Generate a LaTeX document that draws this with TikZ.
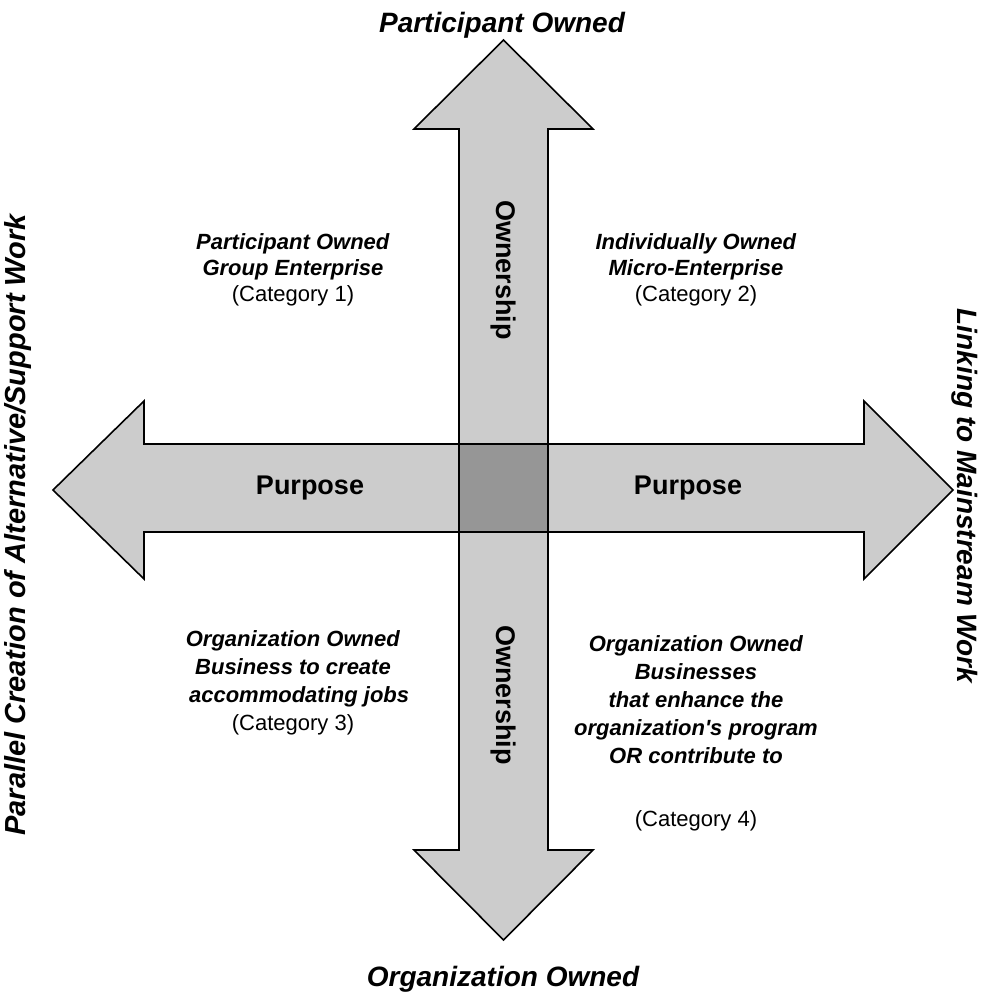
\documentclass[tikz,border=0pt]{standalone}
\usepackage{fontspec}
\setmainfont{Liberation Sans}
\usepackage{xcolor}
\definecolor{axisGray}{HTML}{CCCCCC}
\definecolor{hubGray}{HTML}{969696}
\usetikzlibrary{positioning}

\begin{document}
\begin{tikzpicture}[
  x=1pt, y=-1pt,
  every node/.style={align=center, inner sep=0pt},
  shaft/.style={fill=axisGray, draw=black, line width=1.6pt, line join=miter},
  pole/.style={font=\fontsize{28}{32}\selectfont\bfseries\itshape},
  axislabel/.style={font=\fontsize{27}{30}\selectfont\bfseries},
  quad/.style={font=\fontsize{22}{26}\selectfont},
  quadlow/.style={font=\fontsize{22}{28}\selectfont}
]
\useasboundingbox (0,0) rectangle (981,995);

% ownership axis
\filldraw[shaft] (459,129) -- (414,129) -- (503.5,40) -- (593,129) -- (548,129)
  -- (548,850) -- (593,850) -- (503.5,940) -- (414,850) -- (459,850) -- cycle;
% purpose axis
\filldraw[shaft] (144,444) -- (144,401) -- (53,490) -- (144,579) -- (144,532)
  -- (864,532) -- (864,579) -- (953,490) -- (864,401) -- (864,444) -- cycle;
\filldraw[shaft, fill=hubGray] (459,444) rectangle (548,532);

% ends of the two axes
\node[pole, anchor=base] (ownTop) at (502,33) {Participant Owned};
\node[pole, anchor=base] (ownBottom) at (503,986) {Organization Owned};
\node[pole, font=\fontsize{29}{32}\selectfont\bfseries\itshape, rotate=90]
  (purposeLeft) at (18,525) {Parallel Creation of Alternative/Support Work};
\node[pole, rotate=-90] (purposeRight) at (965,496) {Linking to Mainstream Work};

% labels on the arrows
\node[axislabel, rotate=-90] (ownUp) at (503.5,270) {Ownership};
\node[axislabel, rotate=-90] (ownDown) at (503.5,695) {Ownership};
\node[axislabel] (purpL) at (310,488) {Purpose};
\node[axislabel] (purpR) at (688,488) {Purpose};

% the four categories
\node[quad] (cat1) at (293,270)
  {\textbf{\textit{Participant Owned}}\\ \textbf{\textit{Group Enterprise}}\\ (Category 1)};
\node[quad] (cat2) at (696,270)
  {\textbf{\textit{Individually Owned}}\\ \textbf{\textit{Micro-Enterprise}}\\ (Category 2)};
\node[quadlow] (cat3) at (293,683)
  {\textbf{\textit{Organization Owned}}\\ \textbf{\textit{Business to create}}\\
   \textbf{\textit{\ \ accommodating jobs}}\\ (Category 3)};
\node[quadlow] (bizR) at (696,700)
  {\textbf{\textit{Organization Owned}}\\ \textbf{\textit{Businesses}}\\
   \textbf{\textit{that enhance the}}\\ \textbf{\textit{organization\textquotesingle s program}}\\
   \textbf{\textit{OR contribute to}}};
\node[quadlow, below=46pt of bizR] (cat4) {(Category 4)};
\end{tikzpicture}
\end{document}
